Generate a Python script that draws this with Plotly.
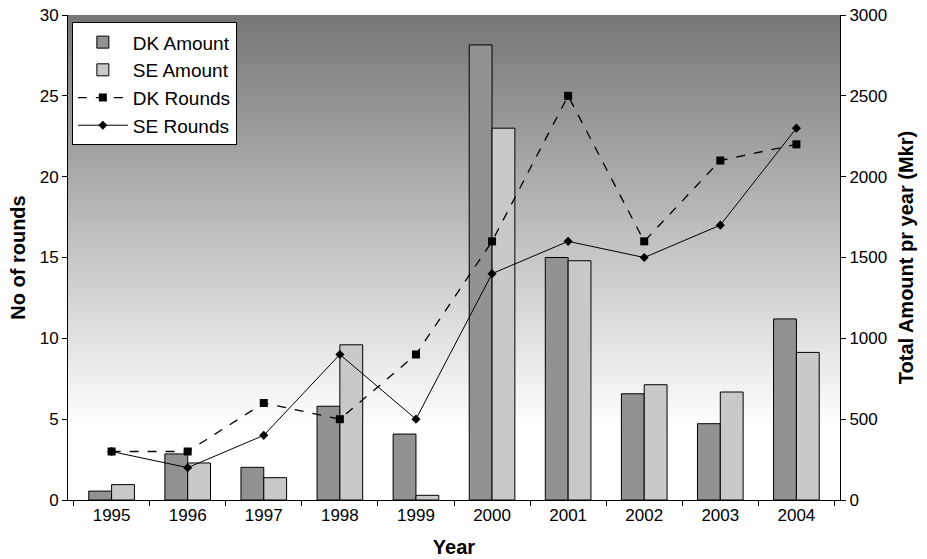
import plotly.graph_objects as go

years = ["1995", "1996", "1997", "1998", "1999", "2000", "2001", "2002", "2003", "2004"]
dk_amount = [55, 285, 202, 580, 408, 2815, 1500, 657, 472, 1120]
se_amount = [95, 229, 138, 960, 29, 2300, 1480, 713, 668, 913]
dk_rounds = [3, 3, 6, 5, 9, 16, 25, 16, 21, 22]
se_rounds = [3, 2, 4, 9, 5, 14, 16, 15, 17, 23]

FONT = "Liberation Sans, Arial, sans-serif"

fig = go.Figure()
fig.add_trace(go.Bar(x=years, y=dk_amount, name="DK Amount", yaxis="y",
                     marker=dict(color="#929292", line=dict(color="black", width=1))))
fig.add_trace(go.Bar(x=years, y=se_amount, name="SE Amount", yaxis="y",
                     marker=dict(color="#c9c9c9", line=dict(color="black", width=1))))
fig.add_trace(go.Scatter(x=years, y=dk_rounds, name="DK Rounds", yaxis="y2", mode="lines+markers",
                         line=dict(color="black", width=1.3, dash="dash"),
                         marker=dict(symbol="square", size=8, color="black")))
fig.add_trace(go.Scatter(x=years, y=se_rounds, name="SE Rounds", yaxis="y2", mode="lines+markers",
                         line=dict(color="black", width=1),
                         marker=dict(symbol="diamond", size=7, color="black")))

# gradient background bands
shapes = []
n = 80
for i in range(n):
    t0 = i / n
    t = (i + 0.5) / n
    v = int(round(118 + (255 - 118) * min(1.0, t / 0.85)))
    c = f"rgb({v},{v},{v})"
    shapes.append(dict(type="rect", xref="x domain", yref="y domain",
                       x0=0, x1=1, y0=1 - t0 - 1.0 / n - 0.002, y1=1 - t0,
                       fillcolor=c, line=dict(width=0), layer="below"))

fig.update_layout(
    width=927, height=559,
    margin=dict(l=68, r=87, t=15, b=59, autoexpand=False),
    paper_bgcolor="white", plot_bgcolor="white",
    font=dict(family=FONT, size=17, color="black"),
    barmode="group", bargap=0.4, bargroupgap=0,
    shapes=shapes,
    showlegend=True,
    legend=dict(x=0.005, y=0.985, xanchor="left", yanchor="top",
                bgcolor="white", bordercolor="black", borderwidth=1,
                font=dict(size=19, family=FONT), traceorder="normal",
                itemwidth=50),
    xaxis=dict(title=dict(text="<b>Year</b>", font=dict(size=20), standoff=15),
               type="category", showline=True, linecolor="black", linewidth=1,
               ticks="outside", tickson="boundaries", ticklen=5, tickcolor="black",
               showgrid=False, tickfont=dict(size=17), automargin=False),
    yaxis=dict(title=dict(text="<b>Total Amount pr year (Mkr)</b>", font=dict(size=20), standoff=12),
               side="right", range=[0, 3000], dtick=500, showline=True, linecolor="black",
               ticks="outside", ticklen=5, tickcolor="black", showgrid=False, zeroline=False,
               tickfont=dict(size=17), automargin=False, ticklabeloverflow="allow"),
    yaxis2=dict(title=dict(text="<b>No of rounds</b>", font=dict(size=20), standoff=8),
                side="left", overlaying="y", range=[0, 30], dtick=5, showline=True,
                linecolor="black", ticks="outside", ticklen=5, tickcolor="black",
                showgrid=False, zeroline=False, tickfont=dict(size=17), automargin=False,
                ticklabeloverflow="allow"),
)

fig.write_html("out.html", config={"displayModeBar": False},
               post_script="document.body.style.margin='0';document.body.style.overflow='hidden';")
